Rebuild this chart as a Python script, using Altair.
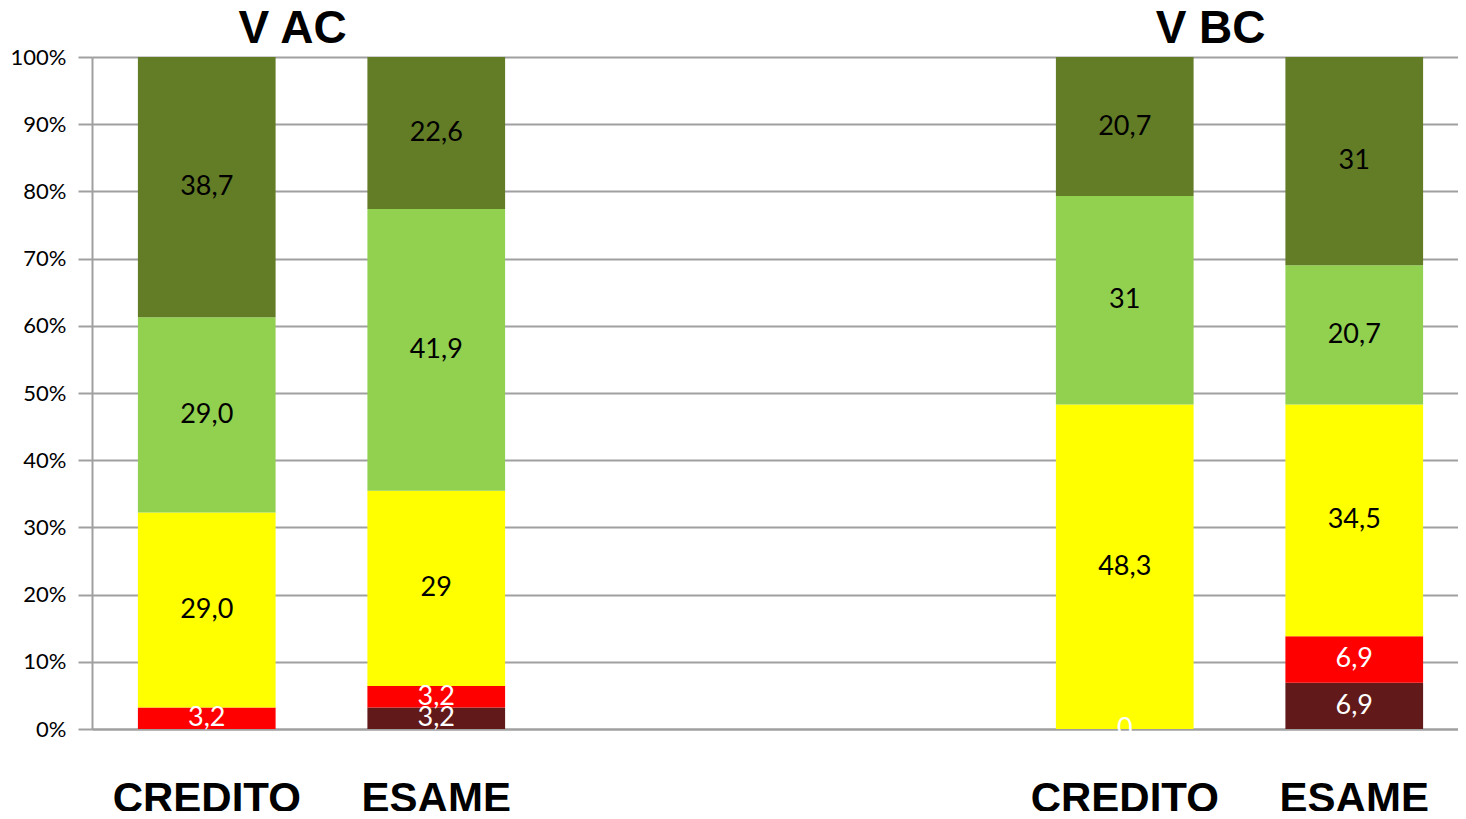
import altair as alt
import pandas as pd

# --- data ---
slot_domain = ["AC|CREDITO", "AC|ESAME", "gap1", "gap2", "BC|CREDITO", "BC|ESAME"]
bars = ["AC|CREDITO", "AC|ESAME", "BC|CREDITO", "BC|ESAME"]
series = ["Livello 1", "Livello 2", "Livello 3", "Livello 4", "Livello 5"]
series_colors = ["#611919", "#FF0000", "#FFFF00", "#92D050", "#637C26"]
label_colors = ["white", "white", "black", "black", "black"]

values = {
    "Livello 1": [0.0, 3.2, 0.0, 6.9],
    "Livello 2": [3.2, 3.2, 0.0, 6.9],
    "Livello 3": [29.0, 29.0, 48.3, 34.5],
    "Livello 4": [29.0, 41.9, 31.0, 20.7],
    "Livello 5": [38.7, 22.6, 20.7, 31.0],
}
labels = {
    "Livello 1": ["", "3,2", "", "6,9"],
    "Livello 2": ["3,2", "3,2", "0", "6,9"],
    "Livello 3": ["29,0", "29", "48,3", "34,5"],
    "Livello 4": ["29,0", "41,9", "31", "20,7"],
    "Livello 5": ["38,7", "22,6", "20,7", "31"],
}
group_slots = ["AC|CREDITO", "BC|CREDITO"]
group_titles = ["V AC", "V BC"]

rows = []
for i, s in enumerate(series):
    for j, b in enumerate(bars):
        rows.append({"slot": b, "series": s, "order": i, "value": values[s][j],
                     "label": labels[s][j], "tcolor": label_colors[i]})
df = pd.DataFrame(rows)
tdf = pd.DataFrame({"slot": group_slots, "title": group_titles})

xscale = alt.Scale(domain=slot_domain, paddingInner=0.4, paddingOuter=0.2, range=[0, 1377])
xaxis = alt.Axis(
    title=None,
    labelExpr="indexof(datum.value,'|')>=0 ? split(datum.value,'|')[1] : ''",
    labelFont="Liberation Sans", labelFontWeight="bold", labelFontSize=42,
    labelColor="black", labelAngle=0, ticks=False, labelPadding=49, labelLimit=0,
    domainColor="#A0A0A0", domainWidth=2, grid=False,
)
yaxis = alt.Axis(
    title=None, format=".0%", values=[i / 10 for i in range(11)],
    labelFont="Lato", labelFontSize=22, labelColor="black",
    tickSize=14, tickColor="#A0A0A0", tickWidth=2, labelPadding=12,
    domainColor="#A0A0A0", domainWidth=2,
    grid=True, gridColor="#A0A0A0", gridWidth=2,
)

base = alt.Chart(df)
bar = base.mark_bar().encode(
    x=alt.X("slot:N", scale=xscale, axis=xaxis),
    y=alt.Y("value:Q", stack="normalize", axis=yaxis, scale=alt.Scale(domain=[0, 1])),
    color=alt.Color("series:N", scale=alt.Scale(domain=series, range=series_colors), legend=None),
    order=alt.Order("order:Q"),
)

text = base.transform_stack(
    stack="value", groupby=["slot"], as_=["y0", "y1"], offset="normalize",
    sort=[alt.SortField("order")],
).transform_calculate(
    mid="(datum.y0 + datum.y1) / 2"
).mark_text(font="Lato", fontSize=27, baseline="middle", align="center").encode(
    x=alt.X("slot:N", scale=xscale),
    y=alt.Y("mid:Q", scale=alt.Scale(domain=[0, 1])),
    text="label:N",
    color=alt.Color("tcolor:N", scale=None),
)

titles = alt.Chart(tdf).mark_text(
    font="Liberation Sans", fontWeight="bold", fontSize=46, baseline="middle", align="center", dx=17
).encode(
    x=alt.X("slot:N", scale=xscale, bandPosition=1),
    y=alt.value(-28),
    text="title:N",
)

chart = alt.layer(bar, text, titles).properties(
    width=1366, height=672,
    autosize=alt.AutoSizeParams(type="none"),
    padding={"left": 84, "top": 49, "right": 0, "bottom": 82},
).configure_view(stroke=None).configure(background="white")

chart.save("out.html", embed_options={"renderer": "svg", "actions": False})
